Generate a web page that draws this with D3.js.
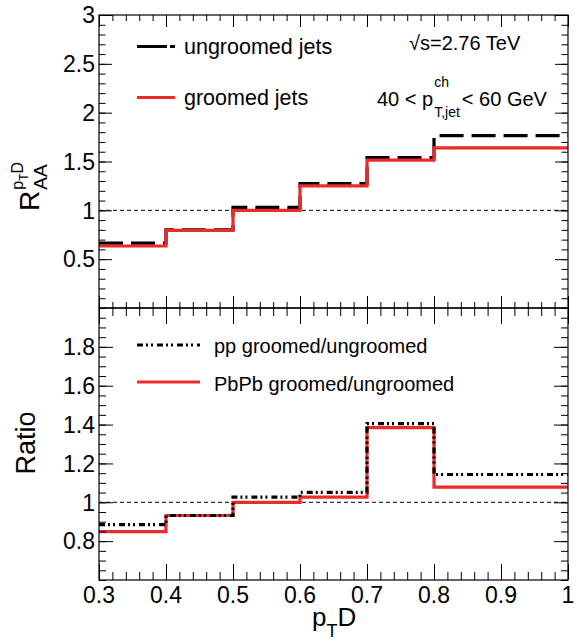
<!DOCTYPE html>
<html><head><meta charset="utf-8">
<script src="https://cdn.jsdelivr.net/npm/d3@7"></script>
<style>
body{margin:0;background:#fff}
svg{display:block}
text{font-family:"Liberation Sans",Arial,Helvetica,sans-serif;fill:#000}
</style>
</head><body>
<svg id="c" width="577" height="644"></svg>
<script>
// ---- data ----
const binEdges = [0.3, 0.4, 0.5, 0.6, 0.7, 0.8, 1.0];
const ungroomed = [0.665, 0.80, 1.03, 1.275, 1.54, 1.765];
const groomed   = [0.635, 0.795, 1.0, 1.25, 1.515, 1.64];
const ppRatio   = [0.885, 0.932, 1.027, 1.051, 1.405, 1.143];
const pbpbRatio = [0.849, 0.932, 1.0, 1.027, 1.384, 1.078];

const xTicks = [0.3, 0.4, 0.5, 0.6, 0.7, 0.8, 0.9, 1.0];
const xTickLabels = ["0.3", "0.4", "0.5", "0.6", "0.7", "0.8", "0.9", "1"];
const topYTicks = [0.5, 1, 1.5, 2, 2.5, 3];
const topYTickLabels = ["0.5", "1", "1.5", "2", "2.5", "3"];
const botYTicks = [0.8, 1, 1.2, 1.4, 1.6, 1.8];
const botYTickLabels = ["0.8", "1", "1.2", "1.4", "1.6", "1.8"];

const legendTop = ["ungroomed jets", "groomed jets"];
const legendBot = ["pp groomed/ungroomed", "PbPb groomed/ungroomed"];

// ---- layout ----
const L = 99, R = 568, topT = 15, topB = 308, botT = 308, botB = 580;
const RED = "#ea2a2b";
const svg = d3.select("#c");

const x = d3.scaleLinear().domain([0.3, 1.0]).range([L, R]);
const yTop = d3.scaleLinear().domain([0, 3]).range([topB, topT]);
const yBot = d3.scaleLinear().domain([0.6, 2.0]).range([botB, botT]);

const rnd = v => Math.round(v * 1000) / 1000;
const xMinor = d3.range(0.3, 1.0001, 0.02).map(rnd);
const topYMinor = d3.range(0, 3.0001, 0.1).map(rnd);
const botYMinor = d3.range(0.6, 2.0001, 0.05).map(rnd);

function axisG(axis, tx, ty) {
  const g = svg.append("g").attr("transform", `translate(${tx},${ty})`).call(axis);
  g.select(".domain").remove();
  g.selectAll(".tick line").attr("stroke", "#000").attr("stroke-width", 1);
  return g;
}

function frame(y, yt, ym, T, B, xMaj, xMin, yMaj, yMin) {
  axisG(d3.axisBottom(x).tickValues(xTicks).tickSize(-xMaj).tickFormat(""), 0, B);
  axisG(d3.axisBottom(x).tickValues(xMinor).tickSize(-xMin).tickFormat(""), 0, B);
  axisG(d3.axisTop(x).tickValues(xTicks).tickSize(-xMaj).tickFormat(""), 0, T);
  axisG(d3.axisTop(x).tickValues(xMinor).tickSize(-xMin).tickFormat(""), 0, T);
  axisG(d3.axisLeft(y).tickValues(yt).tickSize(-yMaj).tickFormat(""), L, 0);
  axisG(d3.axisLeft(y).tickValues(ym).tickSize(-yMin).tickFormat(""), L, 0);
  axisG(d3.axisRight(y).tickValues(yt).tickSize(-yMaj).tickFormat(""), R, 0);
  axisG(d3.axisRight(y).tickValues(ym).tickSize(-yMin).tickFormat(""), R, 0);
  svg.append("rect").attr("x", L).attr("y", T).attr("width", R - L).attr("height", B - T)
    .attr("fill", "none").attr("stroke", "#000").attr("stroke-width", 1.2);
}

function stepPath(vals, y) {
  const pts = vals.map((v, i) => [binEdges[i], v]);
  pts.push([binEdges[binEdges.length - 1], vals[vals.length - 1]]);
  return d3.line().x(d => x(d[0])).y(d => y(d[1])).curve(d3.curveStepAfter)(pts);
}

function refLine(y) {
  svg.append("line").attr("x1", L).attr("x2", R).attr("y1", y(1)).attr("y2", y(1))
    .attr("stroke", "#000").attr("stroke-width", 1).attr("stroke-dasharray", "4,3");
}

const DASH = "24,8";
const DASHDOT = "6,3,2,3,2,4";

// ---- top panel ----
refLine(yTop);
svg.append("path").attr("d", stepPath(ungroomed, yTop)).attr("fill", "none")
  .attr("stroke", "#000").attr("stroke-width", 3.2).attr("stroke-dasharray", DASH);
svg.append("path").attr("d", stepPath(groomed, yTop)).attr("fill", "none")
  .attr("stroke", RED).attr("stroke-width", 3.2);
frame(yTop, topYTicks, topYMinor, topT, topB, 12, 6, 13, 6.5);

// ---- bottom panel ----
refLine(yBot);
svg.append("path").attr("d", stepPath(pbpbRatio, yBot)).attr("fill", "none")
  .attr("stroke", RED).attr("stroke-width", 3.2);
svg.append("path").attr("d", stepPath(ppRatio, yBot)).attr("fill", "none")
  .attr("stroke", "#000").attr("stroke-width", 3.2).attr("stroke-dasharray", DASHDOT);
frame(yBot, botYTicks, botYMinor, botT, botB, 16, 8, 14, 7);

// ---- tick labels ----
const TL = 23;
svg.append("g").selectAll("text").data(topYTicks).join("text")
  .attr("x", 95).attr("y", d => yTop(d)).attr("dy", "0.36em")
  .attr("text-anchor", "end").attr("font-size", TL).text((d, i) => topYTickLabels[i]);
svg.append("g").selectAll("text").data(botYTicks).join("text")
  .attr("x", 95).attr("y", d => yBot(d)).attr("dy", "0.36em")
  .attr("text-anchor", "end").attr("font-size", TL).text((d, i) => botYTickLabels[i]);
svg.append("g").selectAll("text").data(xTicks).join("text")
  .attr("x", d => x(d)).attr("y", 603)
  .attr("text-anchor", "middle").attr("font-size", TL).text((d, i) => xTickLabels[i]);

// ---- legends ----
function legLine(x1, x2, y, color, dash) {
  const l = svg.append("line").attr("x1", x1).attr("x2", x2).attr("y1", y).attr("y2", y)
    .attr("stroke", color).attr("stroke-width", 3.2);
  if (dash) l.attr("stroke-dasharray", dash);
}
legLine(137, 175, 46.5, "#000", "30,3");
svg.append("text").attr("x", 184).attr("y", 54).attr("font-size", 21.5).text(legendTop[0]);
legLine(137, 175, 97.5, RED);
svg.append("text").attr("x", 184).attr("y", 105).attr("font-size", 21.5).text(legendTop[1]);

legLine(137, 200, 345, "#000", DASHDOT);
svg.append("text").attr("x", 214).attr("y", 353).attr("font-size", 20).text(legendBot[0]);
legLine(137, 200, 382, RED);
svg.append("text").attr("x", 214).attr("y", 391).attr("font-size", 20).text(legendBot[1]);

// ---- annotations ----
svg.append("text").attr("x", 409).attr("y", 50).attr("font-size", 20).text("√s=2.76 TeV");

function put(parent, xx, yy, size, str) {
  const t = parent.append("text").attr("x", xx).attr("y", yy).attr("font-size", size).text(str);
  return t.node().getComputedTextLength();
}
{
  const g = svg.append("g");
  let cx = 377;
  cx += put(g, cx, 106, 20, "40 < p");
  const w1 = put(g, cx + 1, 87, 14, "ch");
  const w2 = put(g, cx + 1, 117, 14, "T,jet");
  cx += Math.max(w1, w2) + 3;
  put(g, cx, 106, 20, " < 60 GeV");
}

// ---- axis titles ----
{
  const g = svg.append("g");
  let cx = 312;
  cx += put(g, cx, 626, 26, "p");
  cx += put(g, cx, 637, 18, "T");
  put(g, cx, 626, 26, "D");
}
svg.append("text").attr("transform", "translate(35,443) rotate(-90)")
  .attr("text-anchor", "middle").attr("font-size", 27).text("Ratio");
{
  const g = svg.append("g").attr("transform", "translate(39,211) rotate(-90)");
  const wR = put(g, 0, 0, 28, "R");
  put(g, wR + 1, 8, 19, "AA");
  let cx = wR + 1;
  cx += put(g, cx, -16, 16, "p");
  cx += put(g, cx, -11, 12, "T");
  put(g, cx, -16, 16, "D");
}
</script>
</body></html>
